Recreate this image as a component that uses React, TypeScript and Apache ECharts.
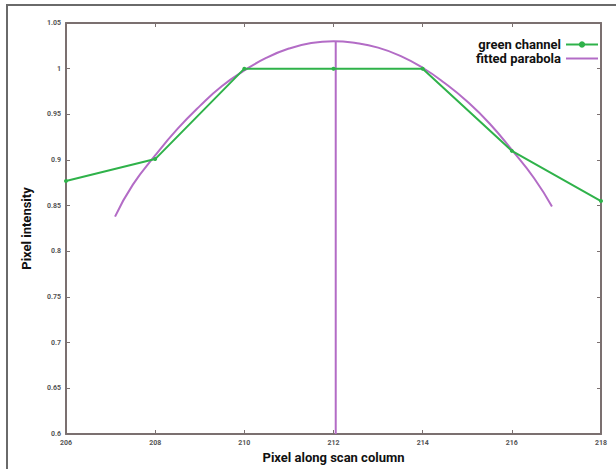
import React, { useEffect, useRef } from "react";
import * as echarts from "echarts";

const xTicks = [206, 208, 210, 212, 214, 216, 218];
const greenX = [206, 208, 210, 212, 214, 216, 218];
const greenY = [0.877, 0.901, 1.0, 1.0, 1.0, 0.91, 0.855];
const parabolaX = [207.1, 207.5, 208, 208.5, 209, 209.5, 210, 210.5, 211, 211.5, 212, 212.5, 213, 213.5, 214, 214.5, 215, 215.5, 216, 216.5, 216.9];
const parabolaY = [0.838, 0.873, 0.905, 0.934, 0.959, 0.981, 0.998, 1.012, 1.022, 1.028, 1.03, 1.028, 1.023, 1.014, 1.001, 0.984, 0.964, 0.94, 0.911, 0.88, 0.849];
const peakX = 212.05;
const peakLine = [0.6, 1.03];

const GREEN = "#2fb24a";
const PURPLE = "#b36cc6";
const AXIS = "#7b7070";
const FONT = "Roboto, 'Noto Sans', sans-serif";

export default function App() {
  const ref = useRef<HTMLDivElement>(null);
  useEffect(() => {
    if (!ref.current) return;
    const chart = echarts.init(ref.current, null, { renderer: "svg" });
    const axisBase = {
      type: "value" as const,
      axisLine: { show: true, onZero: false, lineStyle: { color: AXIS, width: 2 } },
      axisTick: { show: true, inside: true, length: 4, lineStyle: { color: AXIS, width: 1 } },
      splitLine: { show: false },
    };
    chart.setOption({
      animation: false,
      backgroundColor: "#ffffff",
      grid: { left: 66, right: 15, top: 23, bottom: 32, containLabel: false },
      graphic: [
        {
          type: "rect",
          shape: { x: 7, y: 5, width: 640, height: 500 },
          style: { fill: "none", stroke: "#6a6a6a", lineWidth: 2 },
          silent: true,
        },
      ],
      legend: {
        right: 12,
        top: 33,
        orient: "vertical",
        align: "right",
        itemWidth: 32,
        itemHeight: 8,
        itemGap: 1,
        data: [
          { name: "green channel" },
          { name: "fitted parabola", icon: "path://M0,0 L32,0 L32,2 L0,2 Z" },
        ],
        textStyle: { fontFamily: FONT, fontWeight: "bold", fontSize: 13, lineHeight: 13, color: "#111" },
      },
      xAxis: [
        {
          ...axisBase,
          min: 206,
          max: 218,
          interval: 2,
          name: "Pixel along scan column",
          nameLocation: "middle",
          nameGap: 17,
          nameTextStyle: { fontFamily: FONT, fontWeight: "bold", fontSize: 13, color: "#111" },
          axisLabel: { fontSize: 7, color: "#555", fontWeight: "bold", margin: 5, fontFamily: FONT },
        },
        {
          ...axisBase,
          position: "top",
          min: 206,
          max: 218,
          interval: 2,
          axisLabel: { show: false },
        },
      ],
      yAxis: [
        {
          ...axisBase,
          min: 0.6,
          max: 1.05,
          interval: 0.05,
          name: "Pixel intensity",
          nameLocation: "middle",
          nameGap: 33,
          nameTextStyle: { fontFamily: FONT, fontWeight: "bold", fontSize: 13, color: "#111" },
          axisLabel: {
            fontSize: 7,
            color: "#555",
            fontWeight: "bold",
            margin: 5,
            fontFamily: FONT,
            formatter: (v: number) => String(Math.round(v * 100) / 100),
          },
        },
        {
          ...axisBase,
          position: "right",
          min: 0.6,
          max: 1.05,
          interval: 0.05,
          axisLabel: { show: false },
        },
      ],
      series: [
        {
          name: "green channel",
          type: "line",
          data: greenX.map((x, i) => [x, greenY[i]]),
          symbol: "circle",
          symbolSize: 4,
          itemStyle: { color: GREEN },
          lineStyle: { color: GREEN, width: 2 },
          z: 3,
        },
        {
          name: "fitted parabola",
          type: "line",
          data: parabolaX.map((x, i) => [x, parabolaY[i]]),
          smooth: true,
          symbol: "none",
          itemStyle: { color: PURPLE },
          lineStyle: { color: PURPLE, width: 2 },
          z: 2,
        },
        {
          name: "fitted parabola",
          type: "line",
          data: peakLine.map((y) => [peakX, y]),
          symbol: "none",
          itemStyle: { color: PURPLE },
          lineStyle: { color: PURPLE, width: 2 },
          z: 2,
        },
      ],
    });
    return () => chart.dispose();
  }, []);
  return (
    <div
      ref={ref}
      style={{ position: "absolute", left: 0, top: 0, width: 616, height: 469 }}
    />
  );
}
